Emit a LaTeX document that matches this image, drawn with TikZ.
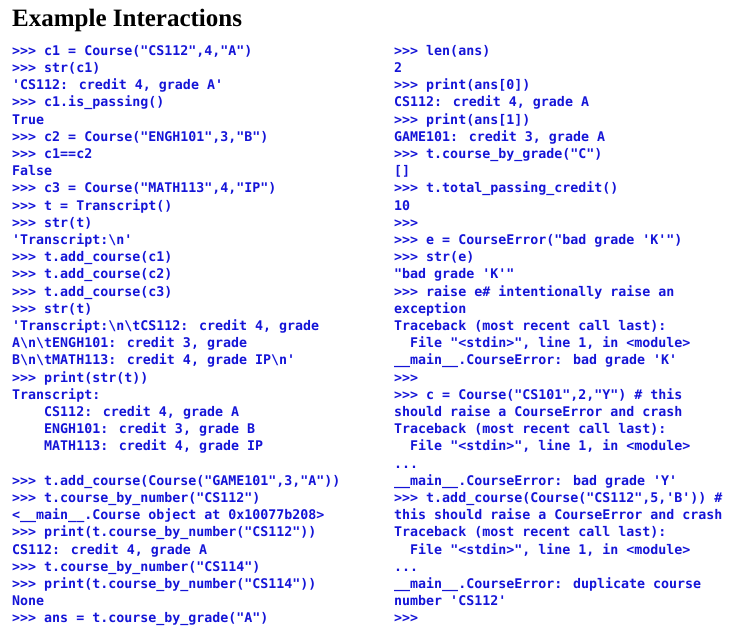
\documentclass[tikz,border=0pt]{standalone}
\usepackage{fontspec}
\newfontfamily\codefont{DejaVu Sans Mono}[BoldFont={DejaVu Sans Mono Bold}]
\newfontfamily\titlefont{Liberation Serif}
\definecolor{codeblue}{RGB}{20,20,215}
\newcommand{\ind}[1]{\hspace*{#1\fontcharwd\font`0}}
\begin{document}
\begin{tikzpicture}[x=1pt,y=1pt,
  codecol/.style={anchor=north west,inner sep=0pt,align=left,text=codeblue,
    font=\codefont\bfseries\fontsize{13.3}{17.2}\selectfont}]
\useasboundingbox (0,0) rectangle (729,-638);
\node[anchor=base west,inner sep=0pt,font=\titlefont\bfseries\fontsize{25}{28}\selectfont] (title) at (12,-26) {Example Interactions};
\node[codecol] (left) at (12,-45) {%
>>> c1 = Course("CS112",4,"A")\\
>>> str(c1)\\
'CS112: credit 4, grade A'\\
>>> c1.is\_passing()\\
True\\
>>> c2 = Course("ENGH101",3,"B")\\
>>> c1==c2\\
False\\
>>> c3 = Course("MATH113",4,"IP")\\
>>> t = Transcript()\\
>>> str(t)\\
'Transcript:\textbackslash n'\\
>>> t.add\_course(c1)\\
>>> t.add\_course(c2)\\
>>> t.add\_course(c3)\\
>>> str(t)\\
'Transcript:\textbackslash n\textbackslash tCS112: credit 4, grade\\
A\textbackslash n\textbackslash tENGH101: credit 3, grade\\
B\textbackslash n\textbackslash tMATH113: credit 4, grade IP\textbackslash n'\\
>>> print(str(t))\\
Transcript:\\
\ind{4}CS112: credit 4, grade A\\
\ind{4}ENGH101: credit 3, grade B\\
\ind{4}MATH113: credit 4, grade IP\\
\strut\\
>>> t.add\_course(Course("GAME101",3,"A"))\\
>>> t.course\_by\_number("CS112")\\
<\_\_main\_\_.Course object at 0x10077b208>\\
>>> print(t.course\_by\_number("CS112"))\\
CS112: credit 4, grade A\\
>>> t.course\_by\_number("CS114")\\
>>> print(t.course\_by\_number("CS114"))\\
None\\
>>> ans = t.course\_by\_grade("A")};
\node[codecol] (right) at (394,-45) {%
>>> len(ans)\\
2\\
>>> print(ans[0])\\
CS112: credit 4, grade A\\
>>> print(ans[1])\\
GAME101: credit 3, grade A\\
>>> t.course\_by\_grade("C")\\
{[]}\\
>>> t.total\_passing\_credit()\\
10\\
>>>\\
>>> e = CourseError("bad grade 'K'")\\
>>> str(e)\\
"bad grade 'K'"\\
>>> raise e\# intentionally raise an\\
exception\\
Traceback (most recent call last):\\
\ind{2}File "<stdin>", line 1, in <module>\\
\_\_main\_\_.CourseError: bad grade 'K'\\
>>>\\
>>> c = Course("CS101",2,"Y") \# this\\
should raise a CourseError and crash\\
Traceback (most recent call last):\\
\ind{2}File "<stdin>", line 1, in <module>\\
...\\
\_\_main\_\_.CourseError: bad grade 'Y'\\
>>> t.add\_course(Course("CS112",5,'B')) \#\\
this should raise a CourseError and crash\\
Traceback (most recent call last):\\
\ind{2}File "<stdin>", line 1, in <module>\\
...\\
\_\_main\_\_.CourseError: duplicate course\\
number 'CS112'\\
>>>};
\end{tikzpicture}
\end{document}
